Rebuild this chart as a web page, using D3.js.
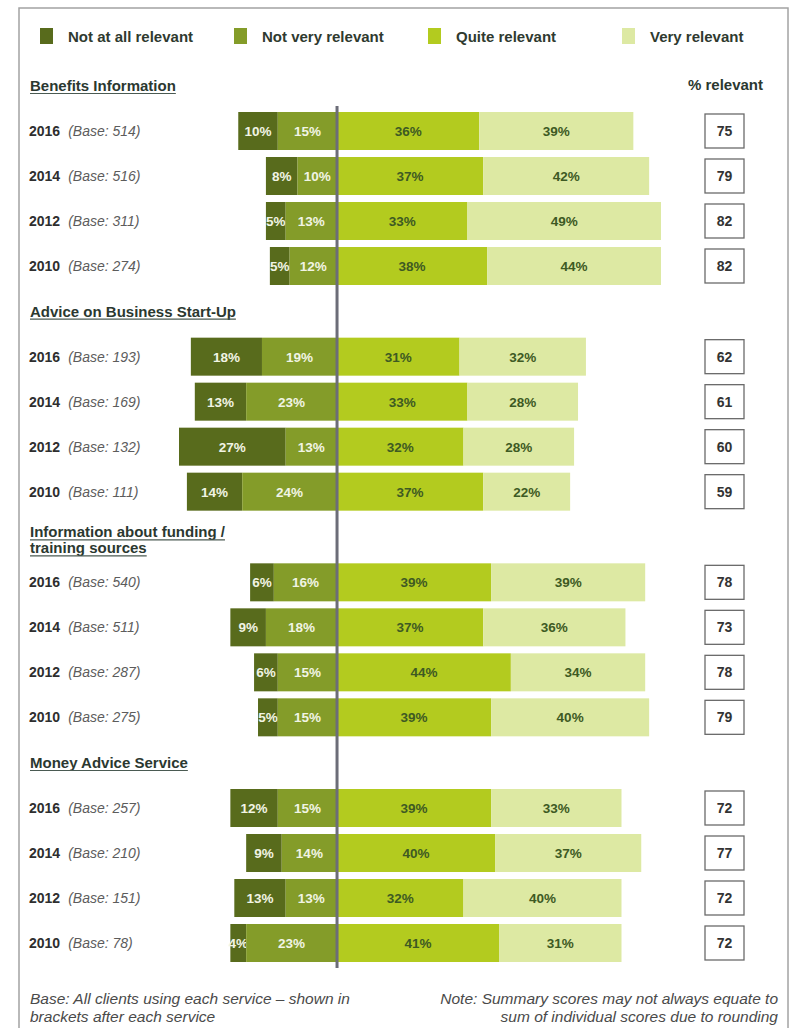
<!DOCTYPE html>
<html>
<head>
<meta charset="utf-8">
<script src="https://cdn.jsdelivr.net/npm/d3@7"></script>
<style>
  html, body { margin: 0; padding: 0; background: #fff; }
  svg { display: block; font-family: "Liberation Sans", Arial, sans-serif; }
</style>
</head>
<body>
<svg id="chart" width="792" height="1028"></svg>
<script>
// Response categories (legend order, left to right)
const categories = ["Not at all relevant", "Not very relevant", "Quite relevant", "Very relevant"];
const colors = ["#586b1c", "#849c29", "#b3cb1f", "#dde9a3"];

// Services (section headers); multi-line headers are split by "\n"
const services = [
  "Benefits Information",
  "Advice on Business Start-Up",
  "Information about funding /\ntraining sources",
  "Money Advice Service"
];
const years = ["2016", "2014", "2012", "2010"];

// Base sizes per service, per year
const bases = [
  [514, 516, 311, 274],
  [193, 169, 132, 111],
  [540, 511, 287, 275],
  [257, 210, 151, 78]
];

// Percentages per category, per service, per year
const notAtAll = [
  [10, 8, 5, 5],
  [18, 13, 27, 14],
  [6, 9, 6, 5],
  [12, 9, 13, 4]
];
const notVery = [
  [15, 10, 13, 12],
  [19, 23, 13, 24],
  [16, 18, 15, 15],
  [15, 14, 13, 23]
];
const quite = [
  [36, 37, 33, 38],
  [31, 33, 32, 37],
  [39, 37, 44, 39],
  [39, 40, 32, 41]
];
const very = [
  [39, 42, 49, 44],
  [32, 28, 28, 22],
  [39, 36, 34, 40],
  [33, 37, 40, 31]
];

// Summary "% relevant" scores
const relevant = [
  [75, 79, 82, 82],
  [62, 61, 60, 59],
  [78, 73, 78, 79],
  [72, 77, 72, 72]
];

const svg = d3.select("#chart");

// Outer frame
svg.append("rect")
  .attr("x", 19).attr("y", 8)
  .attr("width", 769).attr("height", 1040)
  .attr("fill", "none")
  .attr("stroke", "#a3a3a3")
  .attr("stroke-width", 1.5);

// Legend
const legendX = [40, 234, 428, 622];
categories.forEach((c, i) => {
  const g = svg.append("g").attr("transform", `translate(${legendX[i]},28)`);
  g.append("rect").attr("width", 13).attr("height", 16).attr("fill", colors[i]);
  g.append("text")
    .attr("x", 28).attr("y", 13.5)
    .attr("font-size", 15).attr("font-weight", "bold")
    .attr("fill", "#2f3a2f")
    .text(c);
});

// Scales
const x = d3.scaleLinear().domain([-40, 82]).range([179, 661]);
const groupY = d3.scaleLinear().domain([0, 3]).range([131, 808]);
const rowY = d3.scaleLinear().domain([0, 3]).range([0, 135]);
const barH = 38;

// Rows
const rows = [];
services.forEach((s, si) => {
  years.forEach((yr, yi) => {
    rows.push({
      si, yi, year: yr, base: bases[si][yi],
      vals: [notAtAll[si][yi], notVery[si][yi], quite[si][yi], very[si][yi]],
      rel: relevant[si][yi],
      cy: groupY(si) + rowY(yi)
    });
  });
});

// Section headers with underline
services.forEach((s, si) => {
  const lines = s.split("\n");
  const firstBase = lines.length > 1 ? groupY(si) - 45 : groupY(si) - 40;
  lines.forEach((ln, li) => {
    const by = firstBase + li * 16;
    const t = svg.append("text")
      .attr("x", 30).attr("y", by)
      .attr("font-size", 15).attr("font-weight", "bold")
      .attr("fill", "#2b3830")
      .text(ln);
    const w = t.node().getComputedTextLength();
    svg.append("line")
      .attr("x1", 30).attr("x2", 30 + w)
      .attr("y1", by + 2.5).attr("y2", by + 2.5)
      .attr("stroke", "#4a5a52").attr("stroke-width", 1.2);
  });
});

// "% relevant" column title
svg.append("text")
  .attr("x", 763).attr("y", 90)
  .attr("text-anchor", "end")
  .attr("font-size", 15).attr("font-weight", "bold")
  .attr("fill", "#2b3830")
  .text("% relevant");

// Row labels
const lab = svg.append("g");
rows.forEach(r => {
  const t = lab.append("text")
    .attr("x", 29).attr("y", r.cy + 5)
    .attr("font-size", 14);
  t.append("tspan").attr("font-weight", "bold").attr("fill", "#2e2e2e").text(r.year);
  t.append("tspan").attr("dx", 8).attr("font-style", "italic").attr("fill", "#5c5c5c")
    .text(`(Base: ${r.base})`);
});

// Bars (diverging around zero)
const bars = svg.append("g");
rows.forEach(r => {
  const [a, b, c, d] = r.vals;
  const segs = [
    { x0: -(a + b), x1: -b, v: a, k: 0 },
    { x0: -b, x1: 0, v: b, k: 1 },
    { x0: 0, x1: c, v: c, k: 2 },
    { x0: c, x1: c + d, v: d, k: 3 }
  ];
  segs.forEach(sg => {
    bars.append("rect")
      .attr("x", x(sg.x0)).attr("y", r.cy - barH / 2)
      .attr("width", x(sg.x1) - x(sg.x0)).attr("height", barH)
      .attr("fill", colors[sg.k]);
    bars.append("text")
      .attr("x", (x(sg.x0) + x(sg.x1)) / 2)
      .attr("y", r.cy + 5)
      .attr("text-anchor", "middle")
      .attr("font-size", 13.5).attr("font-weight", "bold")
      .attr("fill", sg.k < 2 ? "#f1f4e4" : "#3e5a23")
      .text(sg.v + "%");
  });

  // Summary box
  bars.append("rect")
    .attr("x", 705).attr("y", r.cy - 17)
    .attr("width", 39).attr("height", 34)
    .attr("fill", "#fff").attr("stroke", "#6a6a6a").attr("stroke-width", 1.3);
  bars.append("text")
    .attr("x", 724.5).attr("y", r.cy + 5)
    .attr("text-anchor", "middle")
    .attr("font-size", 14).attr("font-weight", "bold")
    .attr("fill", "#333")
    .text(r.rel);
});

// Zero line
svg.append("line")
  .attr("x1", x(0)).attr("x2", x(0))
  .attr("y1", groupY(0) - 25).attr("y2", groupY(3) + rowY(3) + 25)
  .attr("stroke", "#6c6d78").attr("stroke-width", 3);

// Footnotes
svg.append("text")
  .attr("x", 30).attr("y", 1004)
  .attr("font-size", 15.5).attr("font-style", "italic").attr("fill", "#4a4a4a")
  .selectAll("tspan")
  .data(["Base: All clients using each service \u2013 shown in", "brackets after each service"])
  .join("tspan")
  .attr("x", 30).attr("dy", (d, i) => i ? 18 : 0)
  .text(d => d);

svg.append("text")
  .attr("x", 778).attr("y", 1004)
  .attr("text-anchor", "end")
  .attr("font-size", 15.5).attr("font-style", "italic").attr("fill", "#4a4a4a")
  .selectAll("tspan")
  .data(["Note: Summary scores may not always equate to", "sum of individual scores due to rounding"])
  .join("tspan")
  .attr("x", 778).attr("dy", (d, i) => i ? 18 : 0)
  .text(d => d);
</script>
</body>
</html>
